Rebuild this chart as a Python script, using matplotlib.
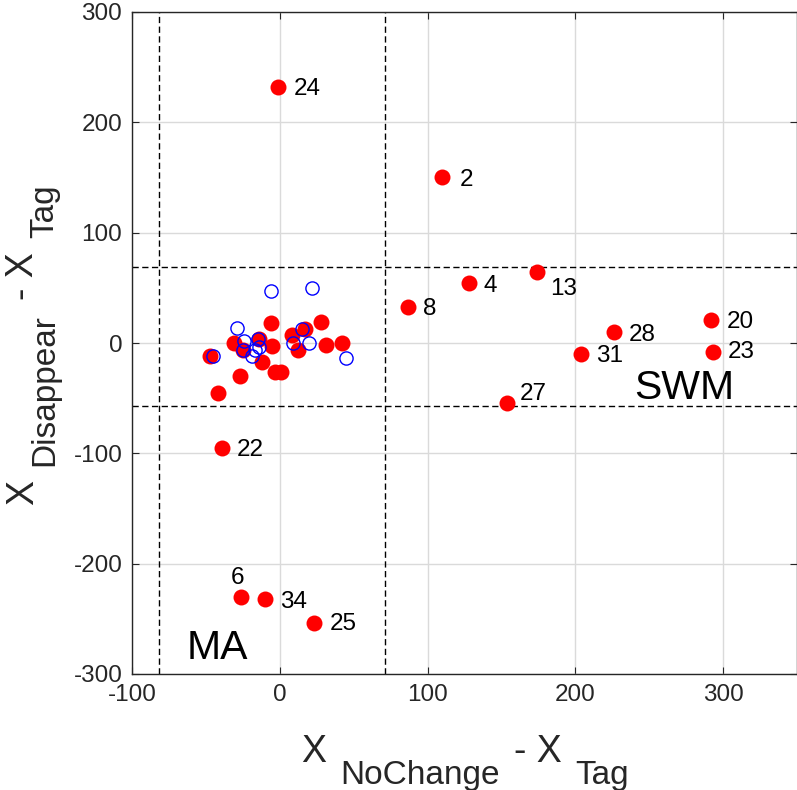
import matplotlib
matplotlib.use('Agg')
import matplotlib.pyplot as plt
from matplotlib.transforms import IdentityTransform

plt.rcParams['font.family'] = ['Liberation Sans', 'DejaVu Sans']
plt.rcParams['axes.unicode_minus'] = False

# labelled events (filled red)
red_ids = ['24', '2', '4', '13', '8', '27', '28', '31', '20', '23', '22', '6', '34', '25']
red_x = [-1, 110, 128, 174, 87, 154, 226, 204, 292, 293, -39, -26, -10, 23]
red_y = [232, 150, 54, 64, 33, -54, 10, -10, 21, -8, -95, -230, -232, -254]

# unlabelled events in the central cluster (filled red)
red2_x = [-47, -42, -31, -27, -25, -14, -12, -6, -5, -3, 1, 8, 12, 17, 28, 31, 42]
red2_y = [-12, -45, 0, -30, -6, 4, -17, 18, -3, -26, -26, 7, -6, 13, 19, -2, 0]

# other events (open blue)
blue_x = [-6, 22, -29, -24, -25, -15, -14, -19, -17, -45, 9, 15, 20, 45]
blue_y = [47, 50, 14, 2, -6, 4, -4, -12, -6, -12, 0, 13, 0, -14]

# threshold lines
x_thresh = [-82, 71]
y_thresh = [69, -57]

# label offsets in pixels (dx, dy, ha)
label_offsets = {
    '24': (15, -2, 'left'), '2': (17, -2, 'left'), '4': (15, -3, 'left'),
    '13': (13, -17, 'left'), '8': (15, -2, 'left'), '27': (12, 9, 'left'),
    '28': (15, -3, 'left'), '31': (15, -2, 'left'), '20': (15, -2, 'left'),
    '23': (15, 0, 'left'), '22': (15, -2, 'left'), '6': (-4, 19, 'center'),
    '34': (15, -3, 'left'), '25': (16, -1, 'left'),
}

W, H = 797, 790
fig = plt.figure(figsize=(W / 100, H / 100), dpi=100)
ax = fig.add_axes([132 / W, 116 / H, 665 / W, 662 / H])

ax.set_xlim(-100, 350)
ax.set_ylim(-300, 300)
ax.set_xticks([-100, 0, 100, 200, 300])
ax.set_yticks([-300, -200, -100, 0, 100, 200, 300])
ax.grid(True, color='#dadada', linewidth=1.0)
ax.set_axisbelow(True)
ax.tick_params(direction='in', length=5, width=0.8, color='#262626',
               labelsize=17.5, labelcolor='#262626', pad=7,
               top=True, right=True)
for side in ['left', 'right', 'top', 'bottom']:
    ax.spines[side].set_color('#262626')
    ax.spines[side].set_linewidth(1.0)

for xv in x_thresh:
    ax.axvline(xv, color='black', linewidth=1.0, linestyle=(0, (4.5, 2.5)))
for yv in y_thresh:
    ax.axhline(yv, color='black', linewidth=1.0, linestyle=(0, (4.5, 2.5)))

ax.plot(red_x, red_y, 'o', color='red', markersize=11.5, markeredgewidth=0, zorder=3)
ax.plot(red2_x, red2_y, 'o', color='red', markersize=11.5, markeredgewidth=0, zorder=3)
ax.plot(blue_x, blue_y, 'o', markerfacecolor='none', markeredgecolor='blue',
        markersize=9.5, markeredgewidth=1.0, zorder=4)

for lab, xv, yv in zip(red_ids, red_x, red_y):
    dx, dy, ha = label_offsets[lab]
    ax.annotate(lab, (xv, yv), xytext=(dx * 0.72, dy * 0.72), textcoords='offset points',
                ha=ha, va='center', fontsize=17.5, color='black')

ax.text(-42.5, -276, 'MA', fontsize=29.5, ha='center', va='center')
ax.text(274, -41, 'SWM', fontsize=29.5, ha='center', va='center')

# compound axis labels with large subscripts
renderer = fig.canvas.get_renderer()


def compound_label(pieces, center, baseline, vertical=False, gap=14):
    widths = []
    for txt, size, shift in pieces:
        t = fig.text(0, 0, txt, fontsize=size)
        widths.append(t.get_window_extent(renderer).width)
        t.remove()
    total = sum(widths) + gap * (len(pieces) - 1)
    pos = center - total / 2
    for (txt, size, shift), w in zip(pieces, widths):
        if vertical:
            fig.text(baseline + shift, pos, txt, fontsize=size, rotation=90,
                     rotation_mode='anchor', ha='left', va='baseline',
                     transform=IdentityTransform(), color='#262626')
        else:
            fig.text(pos, baseline - shift, txt, fontsize=size, ha='left',
                     va='baseline', transform=IdentityTransform(), color='#262626')
        pos += w + gap


compound_label([('X', 27, 0), ('NoChange', 24, 22), ('- X', 27, 0), ('Tag', 24, 22)],
               center=465, baseline=H - 762)
compound_label([('X', 27, 0), ('Disappear', 24, 20), ('- X', 27, 0), ('Tag', 24, 20)],
               center=H - 345, baseline=33, vertical=True)

fig.savefig('out.png', dpi=100)
